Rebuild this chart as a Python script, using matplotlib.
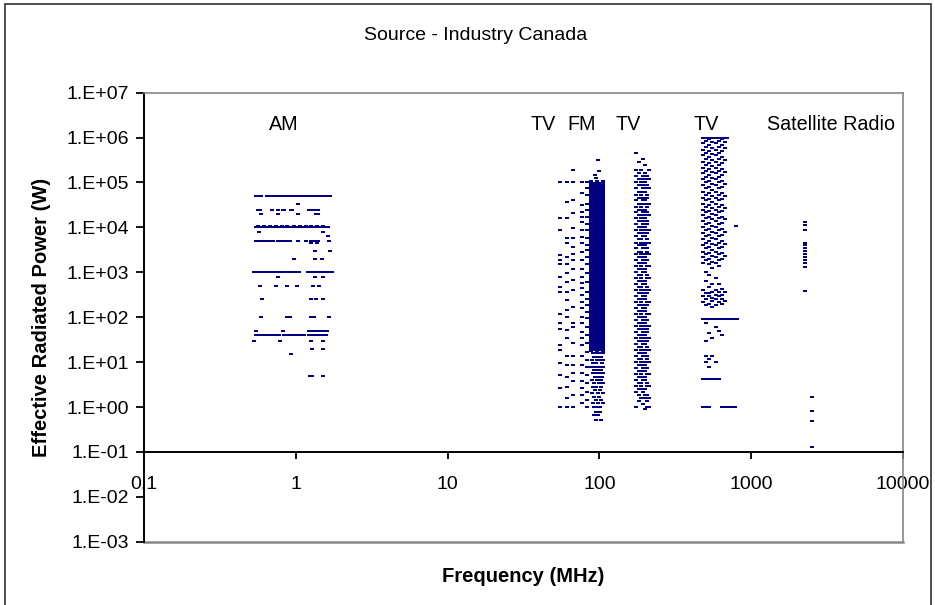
import matplotlib
matplotlib.use("Agg")
import matplotlib.pyplot as plt
from matplotlib.patches import Rectangle
from matplotlib.ticker import NullLocator, FixedLocator, FixedFormatter

# ---------------- data (frequency in MHz, ERP in W) ----------------
am_erp_levels = [50000, 34000, 25000, 20000, 11000, 10000, 8000, 6500, 5000, 4500,
                 3000, 2000, 1000, 800, 500, 250, 100, 50, 40, 30, 20, 15, 5]
am_freqs_by_level = [
    [0.55, 0.57, 0.59, 0.65, 0.68, 0.72, 0.75, 0.79, 0.83, 0.86, 0.90, 0.94, 0.99, 1.03,
     1.08, 1.13, 1.18, 1.23, 1.29, 1.35, 1.41, 1.48, 1.55, 1.62, 1.69],
    [1.03],
    [0.56, 0.58, 0.70, 0.76, 0.82, 0.84, 0.93, 0.95, 1.23, 1.27, 1.36, 1.41],
    [0.59, 0.76, 1.03, 1.36, 1.41],
    [0.56, 0.62, 0.68, 0.74, 0.81, 0.88, 0.97, 1.06, 1.16, 1.26, 1.38, 1.52],
    [0.55, 0.57, 0.60, 0.63, 0.66, 0.69, 0.72, 0.75, 0.79, 0.83, 0.86, 0.90, 0.94, 0.99,
     1.03, 1.08, 1.13, 1.18, 1.23, 1.29, 1.35, 1.41, 1.48, 1.55, 1.62],
    [0.57, 1.50],
    [1.62],
    [0.55, 0.57, 0.60, 0.64, 0.68, 0.71, 0.76, 0.79, 0.84, 0.87, 0.91, 1.03, 1.17, 1.26,
     1.32, 1.41, 1.66],
    [1.26, 1.38],
    [1.34, 1.69],
    [0.98, 1.34, 1.48],
    [0.53, 0.55, 0.58, 0.60, 0.63, 0.66, 0.68, 0.72, 0.75, 0.79, 0.83, 0.86, 0.90, 0.94,
     0.98, 1.02, 1.05, 1.20, 1.25, 1.31, 1.37, 1.43, 1.49, 1.54, 1.60, 1.66, 1.72],
    [0.76, 1.34, 1.52],
    [0.58, 0.74, 0.87, 1.02, 1.29, 1.43],
    [0.60, 1.26, 1.36, 1.50],
    [0.59, 0.87, 0.91, 1.25, 1.31, 1.66],
    [0.55, 0.82, 1.23, 1.28, 1.33, 1.38, 1.44, 1.50, 1.55, 1.60],
    [0.55, 0.57, 0.60, 0.63, 0.66, 0.69, 0.72, 0.75, 0.78, 0.84, 0.88, 0.92, 0.96, 1.00,
     1.04, 1.09, 1.14, 1.23, 1.28, 1.34, 1.40, 1.46, 1.52, 1.58],
    [0.53, 0.79, 1.26, 1.52],
    [1.28, 1.52],
    [0.93],
    [1.24, 1.27, 1.50],
]

tvlo_freqs = [55.25, 61.25, 67.25, 77.25, 83.25]
tvlo_erp = [
    [1e5, 1.6e4, 8700, 2400, 1900, 1500, 800, 480, 370, 120, 73, 56, 24, 19, 9.4, 5.2, 2.6, 1.0],
    [1e5, 3.7e4, 1.6e4, 5700, 4400, 2200, 1500, 950, 620, 370, 240, 145, 100, 52, 34, 14,
     8.6, 4.7, 2.8, 1.6, 1.0],
    [1.9e5, 1e5, 4.1e4, 2.1e4, 9500, 5700, 3700, 2600, 1900, 1200, 670, 400, 170, 73, 62, 26,
     14, 8.6, 5.6, 3.7, 1.85, 1.0],
    [1e5, 5.7e4, 3.2e4, 2.2e4, 1.7e4, 1.3e4, 8700, 6200, 4400, 2900, 1900, 1200, 800, 570,
     440, 310, 220, 160, 100, 73, 48, 34, 24, 14, 8.6, 5.6, 3.7, 2.6, 1.85, 1.2],
    [1e5, 7.4e4, 5.3e4, 3.4e4, 2.4e4, 1.7e4, 1.2e4, 8700, 5700, 4100, 3100, 2200, 1500, 950,
     620, 370, 260, 190, 130, 94, 62, 40, 26, 17, 11, 7.9, 5.2, 3.4, 2.2, 1.4, 1.0],
]

fm_freqs = [88.5, 92.3, 96.3, 100.5, 104.9]
fm_erp = [
    [1e5, 8.6e4, 7.4e4, 6.3e4, 5.4e4, 4.6e4, 4e4, 3.4e4, 2.9e4, 2.5e4, 2.15e4, 1.85e4, 1.6e4,
     1.36e4, 1.17e4, 1e4, 8600, 7400, 6300, 5400, 4600, 4000, 3400, 2900, 2500, 2150, 1850,
     1600, 1360, 1170, 1000, 860, 740, 630, 540, 460, 400, 340, 290, 250, 215, 185, 160, 136,
     117, 100, 86, 74, 63, 54, 46, 40, 34, 29, 25, 21.5, 18.5],
    [9.3e4, 8e4, 6.8e4, 5.8e4, 5e4, 4.3e4, 3.7e4, 3.2e4, 2.7e4, 2.3e4, 2e4, 1.7e4, 1.5e4,
     1.26e4, 1.08e4, 9300, 8000, 6800, 5800, 5000, 4300, 3700, 3200, 2700, 2300, 2000, 1700,
     1500, 1260, 1080, 930, 800, 680, 580, 500, 430, 370, 320, 270, 230, 200, 170, 150, 126,
     108, 93, 80, 68, 58, 50, 43, 37, 32, 27, 23, 20],
    [1e5, 8.6e4, 7.4e4, 6.3e4, 5.4e4, 4.6e4, 4e4, 3.4e4, 2.9e4, 2.5e4, 2.15e4, 1.85e4, 1.6e4,
     1.36e4, 1.17e4, 1e4, 8600, 7400, 6300, 5400, 4600, 4000, 3400, 2900, 2500, 2150, 1850,
     1600, 1360, 1170, 1000, 860, 740, 630, 540, 460, 400, 340, 290, 250, 215, 185, 160, 136,
     117, 100, 86, 74, 63, 54, 46, 40, 34, 29, 25, 21.5, 18.5],
    [9.3e4, 8e4, 6.8e4, 5.8e4, 5e4, 4.3e4, 3.7e4, 3.2e4, 2.7e4, 2.3e4, 2e4, 1.7e4, 1.5e4,
     1.26e4, 1.08e4, 9300, 8000, 6800, 5800, 5000, 4300, 3700, 3200, 2700, 2300, 2000, 1700,
     1500, 1260, 1080, 930, 800, 680, 580, 500, 430, 370, 320, 270, 230, 200, 170, 150, 126,
     108, 93, 80, 68, 58, 50, 43, 37, 32, 27, 23, 20],
    [1e5, 8.6e4, 7.4e4, 6.3e4, 5.4e4, 4.6e4, 4e4, 3.4e4, 2.9e4, 2.5e4, 2.15e4, 1.85e4, 1.6e4,
     1.36e4, 1.17e4, 1e4, 8600, 7400, 6300, 5400, 4600, 4000, 3400, 2900, 2500, 2150, 1850,
     1600, 1360, 1170, 1000, 860, 740, 630, 540, 460, 400, 340, 290, 250, 215, 185, 160, 136,
     117, 100, 86, 74, 63, 54, 46, 40, 34, 29, 25, 21.5, 18.5],
]
fm_sparse_f = [97.3, 93.7, 98.7, 95.5,
               90.4, 94.3, 100.5, 104.9, 92.3, 98.4, 102.7, 89.6, 96.3, 101.8, 106.0,
               91.2, 95.1, 103.6, 88.5, 93.5, 99.3, 105.3, 92.3, 97.5, 102.7,
               90.4, 95.1, 100.5, 106.0, 93.5, 98.4, 103.6, 89.6, 96.3, 101.8,
               92.3, 99.3, 105.3, 90.4, 95.1, 102.7, 93.5, 100.5, 89.6, 97.5, 104.9,
               92.3, 99.3, 94.3, 102.7, 90.4, 98.4, 104.9, 92.3, 96.3, 100.5,
               94.3, 100.5, 92.3, 98.4, 94.3, 102.7]
fm_sparse_erp = [3.2e5, 1.5e5, 1.8e5, 1.25e5,
                 15.7, 15.7, 15.7, 15.7, 13.2, 13.2, 13.2, 11, 11, 11, 11,
                 9.4, 9.4, 9.4, 7.9, 7.9, 7.9, 7.9, 6.7, 6.7, 6.7,
                 5.6, 5.6, 5.6, 5.6, 4.7, 4.7, 4.7, 4.0, 4.0, 4.0,
                 3.4, 3.4, 3.4, 2.8, 2.8, 2.8, 2.4, 2.4, 2.0, 2.0, 2.0,
                 1.7, 1.7, 1.43, 1.43, 1.2, 1.2, 1.2, 1.0, 1.0, 1.0,
                 0.79, 0.79, 0.66, 0.66, 0.51, 0.51]

vhf_freqs = [175.25, 181.25, 187.25, 193.25, 199.25, 205.25, 211.25]
vhf_erp = [
    [4.5e5, 1.9e5, 1.4e5, 1e5, 7.4e4, 5.4e4, 4e4, 2.9e4, 2.15e4, 1.6e4, 1.17e4, 8600, 6300,
     4600, 3400, 2500, 1850, 1360, 1000, 740, 540, 400, 290, 215, 160, 117, 86, 63, 46, 34,
     25, 18.5, 13.6, 10, 7.4, 5.4, 4, 2.9, 2.15, 1],
    [2.9e5, 1.6e5, 1.2e5, 8.6e4, 6.3e4, 4.6e4, 3.4e4, 2.5e4, 1.85e4, 1.36e4, 1e4, 7400, 5400,
     4000, 2900, 2150, 1600, 1170, 860, 630, 460, 340, 250, 185, 136, 100, 74, 54, 40, 29,
     21.5, 16, 11.7, 8.6, 6.3, 4.6, 3.4, 2.5, 1.85, 1.36],
    [1.9e5, 1.2e5, 1e5, 6.3e4, 5.4e4, 3.4e4, 2.9e4, 1.85e4, 1.6e4, 1e4, 8600, 5400, 4600,
     2900, 2500, 1600, 1360, 860, 740, 460, 400, 250, 215, 136, 117, 74, 63, 40, 34, 21.5,
     18.5, 11.7, 10, 6.3, 5.4, 3.4, 2.9, 1.6],
    [3.4e5, 1.4e5, 8.6e4, 7.4e4, 4.6e4, 4e4, 2.5e4, 2.15e4, 1.36e4, 1.17e4, 7400, 6300, 4000,
     3400, 2150, 1850, 1170, 1000, 630, 540, 340, 290, 185, 160, 100, 86, 54, 46, 29, 25, 16,
     13.6, 8.6, 7.4, 4.6, 4, 2.5, 2.15, 1.17],
    [2.5e5, 1.6e5, 1.17e5, 1e5, 7.4e4, 6.3e4, 4e4, 3.4e4, 2.5e4, 1.85e4, 1.6e4, 1e4, 8600,
     6300, 4600, 4000, 2500, 2150, 1600, 1170, 1000, 630, 540, 400, 290, 250, 160, 136, 100,
     74, 63, 40, 34, 25, 18.5, 16, 10, 8.6, 6.3, 4.6, 4, 2.5, 1.85, 1.6, 0.9],
    [1.4e5, 8.6e4, 5.4e4, 4.6e4, 2.9e4, 2.15e4, 1.36e4, 1.17e4, 7400, 5400, 3400, 2900, 1850,
     1360, 860, 740, 460, 340, 215, 185, 117, 86, 54, 46, 29, 21.5, 13.6, 11.7, 7.4, 5.4, 3.4,
     2.9, 1.85, 1.36, 1],
    [1.9e5, 1.2e5, 7.4e4, 3.4e4, 1.85e4, 8600, 4600, 2500, 1360, 740, 400, 215, 117, 63, 34,
     18.5, 10, 5.4, 2.9, 1.6, 1],
]

uhf_freqs = [479, 503, 529, 555, 583, 613, 645, 677]
uhf_erp = [
    [1e6, 7.4e5, 5.4e5, 4e5, 2.9e5, 2.15e5, 1.6e5, 1.17e5, 8.6e4, 6.3e4, 4.6e4, 3.4e4, 2.5e4,
     1.85e4, 1.36e4, 1e4, 7400, 5400, 4000, 2900, 2150, 1600, 400, 290, 215, 90, 4.3, 1.0],
    [1e6, 8.6e5, 6.3e5, 4.6e5, 3.4e5, 2.5e5, 1.85e5, 1.36e5, 1e5, 7.4e4, 5.4e4, 4e4, 2.9e4,
     2.15e4, 1.6e4, 1.17e4, 8600, 6300, 4600, 3400, 2500, 1850, 1000, 630, 340, 250, 185, 90,
     73, 29, 14, 10, 4.3, 1.0],
    [1e6, 9.3e5, 6.8e5, 5e5, 3.7e5, 2.7e5, 2e5, 1.5e5, 1.08e5, 8e4, 5.8e4, 4.3e4, 3.2e4,
     2.3e4, 1.7e4, 1.26e4, 9300, 6800, 5000, 3700, 2700, 2000, 1500, 860, 460, 340, 290, 200,
     90, 44, 12, 7.9, 4.3, 1.0],
    [1e6, 8e5, 5.8e5, 4.3e5, 3.2e5, 2.3e5, 1.7e5, 1.26e5, 9.3e4, 6.8e4, 5e4, 3.7e4, 2.7e4,
     2e4, 1.5e4, 1.08e4, 8000, 5800, 4300, 3200, 2300, 1700, 1260, 540, 370, 270, 230, 170,
     90, 35, 14, 4.3],
    [1e6, 7.4e5, 5.4e5, 4e5, 2.9e5, 2.15e5, 1.6e5, 1.17e5, 8.6e4, 6.3e4, 4.6e4, 3.4e4, 2.5e4,
     1.85e4, 1.36e4, 1e4, 7400, 5400, 4000, 2900, 2150, 1600, 740, 400, 320, 250, 185, 90,
     60, 10, 4.3],
    [1e6, 8.6e5, 6.3e5, 4.6e5, 3.4e5, 2.5e5, 1.85e5, 1.36e5, 1e5, 7.4e4, 5.4e4, 4e4, 2.9e4,
     2.15e4, 1.6e4, 1.17e4, 8600, 6300, 4600, 3400, 2500, 1850, 1360, 540, 370, 290, 215, 90,
     50, 4.3],
    [1e6, 9.3e5, 6.8e5, 5e5, 3.7e5, 2.7e5, 2e5, 1.5e5, 1.08e5, 8e4, 5.8e4, 4.3e4, 3.2e4,
     2.3e4, 1.7e4, 1.26e4, 9300, 6800, 5000, 3700, 2700, 2000, 430, 320, 250, 200, 90, 40,
     1.0],
    [1e6, 8e5, 5.8e5, 3.2e5, 1.7e5, 9.3e4, 5e4, 2.7e4, 1.5e4, 8000, 4300, 2300, 370, 230, 90,
     1.0],
]
uhf_sparse_f = [695, 711, 745, 780, 811, 790, 711, 745, 780]
uhf_sparse_erp = [1e6, 90, 90, 90, 90, 1.1e4, 1.0, 1.0, 1.0]

sat_f = [2260, 2260, 2260, 2260, 2260, 2260, 2260, 2260, 2260, 2260, 2260, 2260, 2260,
         2520, 2520, 2520, 2520]
sat_erp = [1.3e4, 1.15e4, 8700, 4500, 4000, 3500, 3000, 2600, 2200, 1900, 1600, 1300, 390,
           1.7, 0.83, 0.5, 0.13]

x_ticks = [0.1, 1, 10, 100, 1000, 10000]
x_tick_labels = ["0.1", "1", "10", "100", "1000", "10000"]
y_ticks = [1e-3, 1e-2, 1e-1, 1e0, 1e1, 1e2, 1e3, 1e4, 1e5, 1e6, 1e7]
y_tick_labels = ["1.E-03", "1.E-02", "1.E-01", "1.E+00", "1.E+01", "1.E+02", "1.E+03",
                 "1.E+04", "1.E+05", "1.E+06", "1.E+07"]
band_labels = ["AM", "TV", "FM", "TV", "TV", "Satellite Radio"]
band_label_px = [284, 543, 582, 628, 706, 831]

# ---------------- figure ----------------
plt.rcParams["font.family"] = ["Liberation Sans", "DejaVu Sans"]
W, H = 935, 605
fig = plt.figure(figsize=(W / 100, H / 100), dpi=100)
fig.patch.set_facecolor("white")


def fx(px):
    return px / W


def fy(py):
    return 1 - py / H


L, R, T, B = 144, 903, 92.7, 541.7
ax = fig.add_axes([fx(L), fy(B), (R - L) / W, (B - T) / H])
ax.set_xscale("log")
ax.set_yscale("log")
ax.set_xlim(0.1, 10000)
ax.set_ylim(1e-3, 1e7)

NAVY = "#000080"
thin_marker = [(-1.3, -1), (1.3, -1), (1.3, 1), (-1.3, 1)]
block_marker = [(-1.15, -1), (1.15, -1), (1.15, 1), (-1.15, 1)]


def draw(xs, ys, mk=thin_marker, ms=2.4):
    ax.plot(xs, ys, ls="none", marker=mk, ms=ms, mew=0, color=NAVY, clip_on=True)


for lvl, fl in zip(am_erp_levels, am_freqs_by_level):
    draw(fl, [lvl] * len(fl))
for f, el in zip(tvlo_freqs, tvlo_erp):
    draw([f] * len(el), el)
for f, el in zip(fm_freqs, fm_erp):
    draw([f] * len(el), el, block_marker, 2.5)
draw(fm_sparse_f, fm_sparse_erp)
for f, el in zip(vhf_freqs, vhf_erp):
    draw([f] * len(el), el)
for f, el in zip(uhf_freqs, uhf_erp):
    draw([f] * len(el), el, block_marker, 2.4)
draw(uhf_sparse_f, uhf_sparse_erp)
draw(sat_f, sat_erp)

# axes styling
GRAY = "#868686"
for s in ("top", "right"):
    ax.spines[s].set_color(GRAY)
    ax.spines[s].set_linewidth(1.2)
ax.spines["left"].set_color("black")
ax.spines["left"].set_linewidth(1.4)
ax.spines["bottom"].set_position(("data", 0.1))
ax.spines["bottom"].set_color("black")
ax.spines["bottom"].set_linewidth(1.4)
ax.axhline(1e-3, color=GRAY, lw=1.8, clip_on=False, zorder=0.5)

ax.xaxis.set_major_locator(FixedLocator(x_ticks))
ax.xaxis.set_major_formatter(FixedFormatter(x_tick_labels))
ax.xaxis.set_minor_locator(NullLocator())
ax.yaxis.set_major_locator(FixedLocator(y_ticks))
ax.yaxis.set_major_formatter(FixedFormatter(y_tick_labels))
ax.yaxis.set_minor_locator(NullLocator())
ax.tick_params(axis="x", direction="out", length=5, width=1.3, pad=12, labelsize=14)
ax.tick_params(axis="y", direction="out", length=6, width=1.3, pad=5, labelsize=14)

# texts
fig.text(fx(476), fy(35), "Source - Industry Canada", ha="center", va="center", fontsize=14)
for lab, px in zip(band_labels, band_label_px):
    fig.text(fx(px), fy(125), lab, ha="center", va="center", fontsize=14.2)
fig.text(fx(42), fy(317.5), "Effective Radiated Power (W)", rotation=90, ha="center",
         va="center", fontsize=14.5, fontweight="bold")
fig.text(fx(523.5), fy(577), "Frequency (MHz)", ha="center", va="center", fontsize=14.5,
         fontweight="bold")

# chart-area border
fig.add_artist(Rectangle((fx(5), -0.2), (926) / W, fy(4) + 0.2, transform=fig.transFigure,
                         fill=False, ec="#303030", lw=1.2))

fig.savefig("out.png", dpi=100)
